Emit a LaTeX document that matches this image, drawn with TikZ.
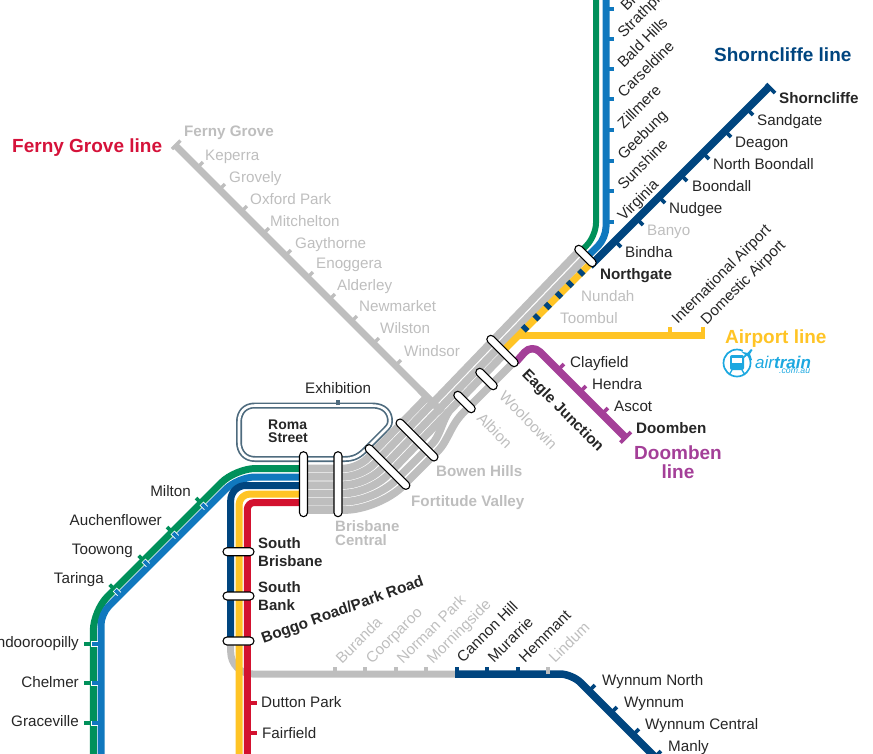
\documentclass[tikz,border=0pt]{standalone}
\usepackage{fontspec}
\setmainfont{Liberation Sans}
\usetikzlibrary{shapes.misc}
\definecolor{cgreen}{HTML}{00905A}
\definecolor{cblue}{HTML}{1078BE}
\definecolor{cnavy}{HTML}{00457F}
\definecolor{cyellow}{HTML}{FFC425}
\definecolor{cred}{HTML}{D3122F}
\definecolor{cgrey}{HTML}{BEBEBE}
\definecolor{cpurple}{HTML}{A43F98}
\definecolor{cslate}{HTML}{4E6B7E}
\definecolor{ctext}{HTML}{262626}
\definecolor{ccyan}{HTML}{1CA8E0}
\definecolor{cfern}{HTML}{D5123A}
\tikzset{
  lab/.style={anchor=west,inner sep=0pt,text height=12.7pt,text depth=1.2pt,font=\fontsize{15.2}{15}\selectfont,text=ctext},
  glab/.style={lab,text=cgrey},
  blab/.style={lab,font=\fontsize{15.2}{15}\selectfont\bfseries},
  gblab/.style={blab,text=cgrey},
  rlab/.style={lab,rotate=45},
  grlab/.style={glab,rotate=45},
  multi/.style={anchor=north west,align=left,inner sep=0pt,text=ctext,font=\fontsize{15}{18}\selectfont\bfseries},
  title/.style={inner sep=0pt,align=center,font=\fontsize{19}{20}\selectfont\bfseries},
  titleone/.style={title,anchor=west,text height=15.5pt,text depth=1.8pt},
  route/.style={line width=7pt,line cap=butt,line join=round},
  band/.style={line width=7.7pt,cgrey,line cap=butt,line join=round},
  stub/.style={line width=3.8pt,line cap=butt},
  stopcap/.style={shape=rounded rectangle,draw=black,fill=white,line width=1.1pt,minimum height=8pt,inner sep=0pt,rounded rectangle arc length=180},
}
\begin{document}
\begin{tikzpicture}[x=1pt,y=-1pt]
\useasboundingbox (0,0) rectangle (873,753);

% Roma Street loop
\draw[cslate,line width=6pt,line join=round] (255,405.5) -- (372,405.5) .. controls (385,405.5) and (390,413) .. (390,421) .. controls (390,425) and (388,427) .. (385,430) -- (370,445) .. controls (363,452) and (358,459) .. (345,459) -- (255,459) .. controls (245,459) and (239,452) .. (239,442) -- (239,422) .. controls (239,412) and (245,405.5) .. (255,405.5) -- cycle;
\draw[white,line width=2.6pt,line join=round] (255,405.5) -- (372,405.5) .. controls (385,405.5) and (390,413) .. (390,421) .. controls (390,425) and (388,427) .. (385,430) -- (370,445) .. controls (363,452) and (358,459) .. (345,459) -- (255,459) .. controls (245,459) and (239,452) .. (239,442) -- (239,422) .. controls (239,412) and (245,405.5) .. (255,405.5) -- cycle;
\draw[cslate,line width=4pt] (338,405) -- (338,399.5);

% grey Ferny Grove line
\draw[cgrey,line width=7pt] (175.5,145.5) -- (442,412);
\draw[cgrey,line width=3.4pt] (172,149) -- (180.5,140.5);
\foreach \x in {197.5,219.5,241.5,263.5,285.5,307.5,329.5,351.5,373.5,395.5}
  \draw[stub,cgrey,line width=3.4pt] (\x,\x-30) -- ++(5.5,-5.5);

% bus bands
\draw[band] (304,468.5) [rounded corners=14pt] -- (357.5,468.5) [sharp corners] -- (428,396);
\draw[band] (304,476.8) [rounded corners=18pt] -- (361.7,476.8) [sharp corners] -- (581,249);
\draw[band] (304,485.1) [rounded corners=22pt] -- (365.9,485.1) [sharp corners] -- (587,256);
\draw[band] (304,493.4) [rounded corners=26pt] -- (370.1,493.4) [sharp corners] -- (505,353);
\draw[band] (304,501.7) [rounded corners=30pt] -- (374.3,501.7) [sharp corners] -- (432,444) .. controls (440,436) and (441,424) .. (449,411);
\draw[band] (304,510) [rounded corners=34pt] -- (379,510) [sharp corners] -- (437,452) .. controls (449,440) and (450,425) .. (465,411) -- (513,363);

% Ferny Grove over the bands
\draw[cgrey,line width=7pt] (420,390) -- (442,412);

% Cleveland grey
\draw[route,cgrey,rounded corners=22pt] (230.7,640) -- (230.7,674) -- (456,674);
% Cleveland navy
\draw[route,cnavy,line width=7.5pt,rounded corners=12pt] (455,674) -- (572,674) -- (660,762);
\foreach \x in {335,365.3,396,426.3,548.3} \draw[stub,cgrey] (\x,674) -- (\x,667);
\foreach \x in {457,487.3,517.7} \draw[stub,cnavy] (\x,674) -- (\x,667);
\foreach \x in {589,611,633,655} \draw[stub,cnavy] (\x,\x+102) -- ++(6,-6);

% Ipswich side
\draw[route,cgreen] (304,468.5) [rounded corners=20pt] -- (235.5,468.5) -- (93.3,610.7) -- (93.3,760);
\draw[route,cblue] (304,477) [rounded corners=17pt] -- (238,477) [rounded corners=11pt] -- (101,614) -- (101,760);
\foreach \x/\y in {196/498,167/527,138.7/555.7,109.7/584.7} \draw[stub,cgreen] (\x,\y) -- ++(5,5);
\foreach \x/\y in {204/506,175/535,146/563,117.3/592} {
  \draw[white,line width=5.4pt] (\x+2,\y+2) -- ++(-4.5,-4.5);
  \draw[stub,cblue] (\x+2.5,\y+2.5) -- ++(-4.5,-4.5);
}
\foreach \y in {644,683.3,723.3} {
  \draw[stub,cgreen] (93.3,\y) -- (84,\y);
  \draw[white,line width=5.4pt] (97.5,\y) -- (91.3,\y);
  \draw[stub,cblue] (101,\y) -- (92,\y);
}
\draw[route,cnavy,rounded corners=15pt] (304,485.5) -- (230.7,485.5) -- (230.7,642);
\draw[route,cyellow,rounded corners=11pt] (304,494) -- (239,494) -- (239,760);
\draw[route,cred,rounded corners=7pt] (304,502.5) -- (247.3,502.5) -- (247.3,760);
\foreach \y in {703,733.3} \draw[stub,cred] (247.3,\y) -- (257,\y);

% North lines
\draw[route,cgreen,line width=6pt,rounded corners=13pt] (596,-5) -- (596,236) -- (580,252);
\draw[route,cblue,rounded corners=11pt] (606,-5) -- (606,238) -- (586,258);
\foreach \y in {8.7,38.7,69,99.3,130,160.7,191,221.7} \draw[stub,cblue] (606,\y) -- (614,\y);
\draw[route,cnavy,line width=7.5pt] (590,266) -- (769.5,86.5);
\draw[cnavy,line width=3.6pt] (766,84) -- (775,93);
\foreach \x in {747,725,703,681,659,637,615} \draw[stub,cnavy] (\x,856-\x) -- ++(6,6);

% Yellow
\draw[route,cyellow] (503,351) -- (591,263);
\draw[cyellow,line width=6.5pt] (519,335.5) -- (705,335.5);
\draw[stub,cyellow] (670,335.5) -- (670,327);
\draw[cyellow,line width=3.8pt] (703.3,335.5) -- (703.3,327);
\foreach \x/\y in {525/328.3,536.7/317.3,547.7/306,559/295,570/284,581.3/272.7}
  \draw[cnavy,line width=7pt] (\x-1.8,\y+1.8) -- (\x+1.8,\y-1.8);

% Purple
\draw[route,cpurple,line width=7.5pt,rounded corners=11pt] (516,362) -- (532,344) -- (626,438);
\draw[cpurple,line width=3.6pt] (620.5,442.5) -- (631,432);
\foreach \x in {558,580,602} \draw[stub,cpurple] (\x,\x-188) -- ++(6,-6);

% Stops
\node[stopcap,minimum width=65pt,rotate=90] (romastop) at (303.5,484.2) {};
\node[stopcap,minimum width=65pt,rotate=90] (centralstop) at (338,484.2) {};
\node[stopcap,minimum width=60pt,rotate=-45] (fortstop) at (387.5,467) {};
\node[stopcap,minimum width=56pt,rotate=-45] (bowenstop) at (417,440) {};
\node[stopcap,minimum width=27pt,rotate=-45] (albionstop) at (464.5,402) {};
\node[stopcap,minimum width=27pt,rotate=-45] (woolstop) at (486.5,379) {};
\node[stopcap,minimum width=41pt,rotate=-45] (eaglestop) at (502.5,351) {};
\node[stopcap,minimum width=27pt,rotate=-45] (northstop) at (585.5,256) {};
\node[stopcap,minimum width=31pt] (sbstop) at (238.5,551.7) {};
\node[stopcap,minimum width=31pt] (sbkstop) at (238.5,596) {};
\node[stopcap,minimum width=31pt] (boggostop) at (238.5,641) {};

% Titles
\node[titleone,text=cfern] (t1) at (12,146) {Ferny Grove line};
\node[titleone,text=cnavy] (t2) at (714,55) {Shorncliffe line};
\node[titleone,text=cyellow] (t3) at (725,337) {Airport line};
\node[title,text=cpurple,font=\fontsize{19}{19.5}\selectfont\bfseries] (t4) at (678,462) {Doomben\\line};

% Ferny labels
\node[gblab] (fg) at (184,131) {Ferny Grove};
\node[glab] (n1) at (205,155) {Keperra};
\node[glab] (n2) at (229,177) {Grovely};
\node[glab] (n3) at (250,199) {Oxford Park};
\node[glab] (n4) at (270,221) {Mitchelton};
\node[glab] (n5) at (295,243) {Gaythorne};
\node[glab] (n6) at (316,263) {Enoggera};
\node[glab] (n7) at (337,285) {Alderley};
\node[glab] (n8) at (359,306) {Newmarket};
\node[glab] (n9) at (380,328) {Wilston};
\node[glab] (n10) at (404,351) {Windsor};

% Navy labels
\node[blab] (s0) at (779,98) {Shorncliffe};
\node[lab] (s1) at (757,120) {Sandgate};
\node[lab] (s2) at (735,142) {Deagon};
\node[lab] (s3) at (713,164) {North Boondall};
\node[lab] (s4) at (692,186) {Boondall};
\node[lab] (s5) at (669,208) {Nudgee};
\node[glab] (s6) at (647,230) {Banyo};
\node[lab] (s7) at (625,252) {Bindha};
\node[blab] (s8) at (600,274) {Northgate};
\node[glab] (s9) at (581,296) {Nundah};
\node[glab] (s10) at (560,318) {Toombul};

% North rotated
\node[rlab] (c0) at (622.6,7.5) {Bray Park};
\node[rlab] (c1) at (619.6,34.5) {Strathpine};
\node[rlab] (c2) at (619.6,64.5) {Bald Hills};
\node[rlab] (c3) at (619.6,94.5) {Carseldine};
\node[rlab] (c4) at (619.6,125.5) {Zillmere};
\node[rlab] (c5) at (619.6,156.5) {Geebung};
\node[rlab] (c6) at (619.6,186.5) {Sunshine};
\node[rlab] (c7) at (619.6,217.5) {Virginia};

% Airport
\node[rlab] (a1) at (673.6,320.6) {International Airport};
\node[rlab] (a2) at (702.6,321.6) {Domestic Airport};
\draw[ccyan,line width=1.7pt] (737,363) circle (13.5pt);
\fill[white] (747,353) circle (5pt);
\fill[ccyan] (741,351.5) -- (747.5,353) -- (751,349) -- (752.5,350) -- (750,354) -- (752,360) -- (750.5,360) -- (747,355.5) -- (744,358) -- (743,357.5) -- (745,354.5) -- cycle;
\fill[ccyan,rounded corners=2pt] (730,355) rectangle (744,370);
\fill[white] (732,358) rectangle (742,363);
\draw[ccyan,line width=1.3pt] (732,370) -- (729,375) (742,370) -- (745,375);
\node[anchor=west,inner sep=0pt,text=ccyan,font=\fontsize{17}{17}\selectfont\itshape] (air) at (755,362) {air\textbf{train}};
\node[anchor=west,inner sep=0pt,text=ccyan,font=\fontsize{8.7}{9}\selectfont\itshape] (dotcom) at (779,371.5) {.com.au};

% Doomben
\node[lab] (d1) at (570,362) {Clayfield};
\node[lab] (d2) at (592,384) {Hendra};
\node[lab] (d3) at (614,406) {Ascot};
\node[blab] (d4) at (636,428) {Doomben};
\node[blab,rotate=-45] (e1) at (525.4,371.6) {Eagle Junction};
\node[glab,rotate=-45] (e2) at (502.4,393.6) {Wooloowin};
\node[glab,rotate=-45] (e3) at (480,415) {Albion};
\node[gblab] (e4) at (436,471) {Bowen Hills};
\node[gblab] (e5) at (411,501) {Fortitude Valley};
\node[multi,text=cgrey,font=\fontsize{15}{14}\selectfont\bfseries] (e6) at (335,520) {Brisbane\\Central};
\node[lab] (ex) at (305,388) {Exhibition};
\node[multi,font=\fontsize{14}{13}\selectfont\bfseries] (rs) at (268,420) {Roma\\Street};

% Inner west labels
\node[lab,anchor=east] (w1) at (191,491) {Milton};
\node[lab,anchor=east] (w2) at (162,520) {Auchenflower};
\node[lab,anchor=east] (w3) at (133,549) {Toowong};
\node[lab,anchor=east] (w4) at (104,578) {Taringa};
\node[lab,anchor=east] (w5) at (79,642) {Indooroopilly};
\node[lab,anchor=east] (w6) at (79,682) {Chelmer};
\node[lab,anchor=east] (w7) at (79,721) {Graceville};

% South
\node[multi] (b1) at (258,537) {South\\Brisbane};
\node[multi] (b2) at (258,581) {South\\Bank};
\node[blab,rotate=19.7,font=\fontsize{15.3}{15}\selectfont\bfseries] (b3) at (261.5,638) {Boggo Road/Park Road};
\node[lab] (b4) at (261,702) {Dutton Park};
\node[lab] (b5) at (262,733) {Fairfield};

% Cleveland rotated
\node[grlab] (v1) at (338,660.5) {Buranda};
\node[grlab] (v2) at (368,660.5) {Coorparoo};
\node[grlab] (v3) at (399,660.5) {Norman Park};
\node[grlab] (v4) at (429,660.5) {Morningside};
\node[rlab] (v5) at (459,659.5) {Cannon Hill};
\node[rlab] (v6) at (490,659.5) {Murarrie};
\node[rlab] (v7) at (521,659.5) {Hemmant};
\node[grlab] (v8) at (551,659.5) {Lindum};
\node[lab] (y1) at (602,680) {Wynnum North};
\node[lab] (y2) at (624,702) {Wynnum};
\node[lab] (y3) at (645,724) {Wynnum Central};
\node[lab] (y4) at (668,746) {Manly};
\end{tikzpicture}
\end{document}
